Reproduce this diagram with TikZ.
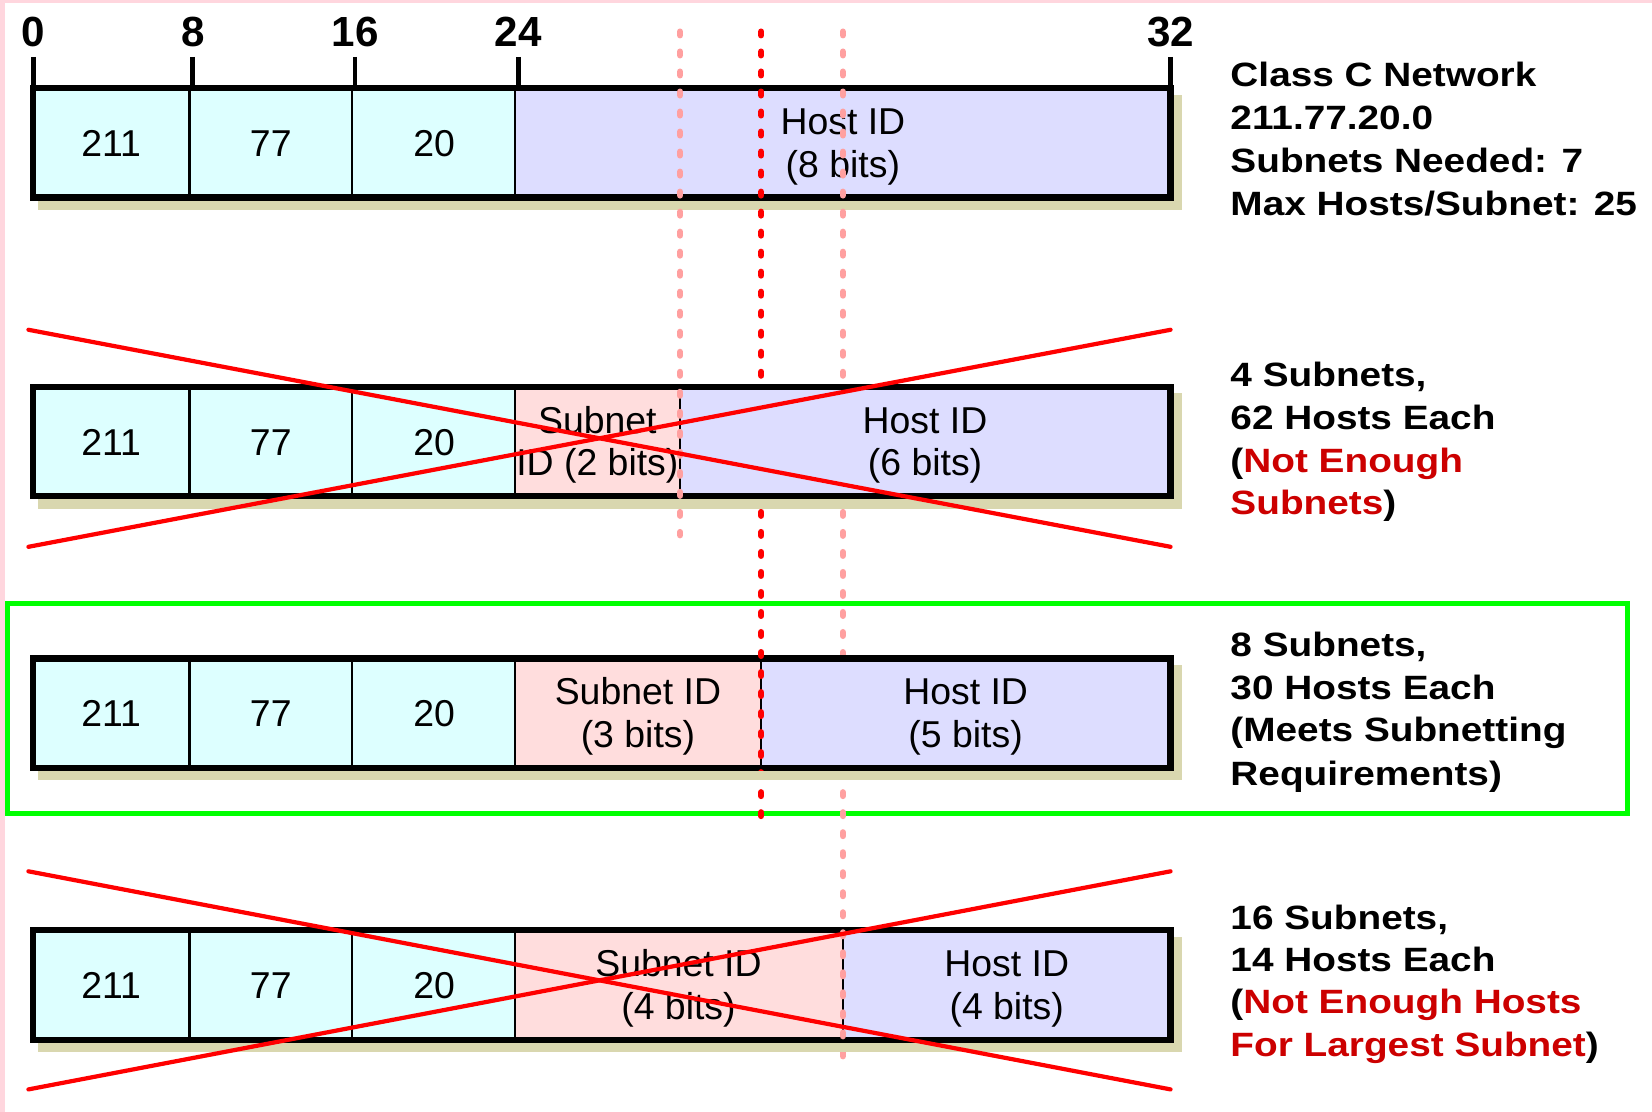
\documentclass[tikz,border=0pt]{standalone}
\usepackage{fontspec}
\setmainfont{Liberation Sans}
\newfontfamily\sidefont[FakeStretch=1.15]{Liberation Sans}
\definecolor{cellcyan}{RGB}{221,255,255}
\definecolor{celllav}{RGB}{221,221,255}
\definecolor{cellpink}{RGB}{255,221,221}
\definecolor{shadowtan}{RGB}{217,215,175}
\definecolor{dotpink}{RGB}{255,160,160}
\definecolor{dotred}{RGB}{255,0,0}
\definecolor{crossred}{RGB}{255,0,0}
\definecolor{okgreen}{RGB}{0,255,0}
\definecolor{warnred}{RGB}{204,0,0}
\definecolor{edgepink}{RGB}{255,214,222}
\tikzset{
 tickline/.style={line width=2.25pt, black},
 barborder/.style={line width=2.9pt, black},
 cellsep/.style={line width=1.2pt, black},
 dotline/.style={line width=3pt, line cap=round, dash pattern=on 1.75pt off 7.75pt},
 crossline/.style={line width=2pt, crossred, line cap=round},
 ticklabel/.style={font={\bfseries\fontsize{20}{24}\selectfont}, anchor=base, inner sep=0pt},
 celltext/.style={font={\fontsize{17.75}{21}\selectfont}, anchor=base, inner sep=0pt},
 sidetext/.style={font={\sidefont\bfseries\fontsize{16}{20}\selectfont}, anchor=base west, inner sep=0pt},
}
\newcommand\drawbar[2]{%
 \fill[shadowtan] (36.25,{#1+6.25}) rectangle (1121.75,{#1+115.75});
 \fill[cellcyan] (31,#1) rectangle (489,{#1+104});
 \fill[cellpink] (489,#1) rectangle (#2,{#1+104});
 \fill[celllav] (#2,#1) rectangle (1111,{#1+104});
 \foreach \xx in {180,334,489,#2} \draw[cellsep] (\xx,#1) -- (\xx,{#1+104});
 \draw[barborder] (31,#1) rectangle (1111,{#1+104});
}
\newcommand\octets[2]{%
 \node[celltext] (#2a) at (105.5,{#1+65}) {211};
 \node[celltext] (#2b) at (257,{#1+65}) {77};
 \node[celltext] (#2c) at (412,{#1+65}) {20};
}
\newcommand\ownline[3]{% top, x, color
 \begin{scope}
  \clip (28.25,{#1-2.75}) rectangle (1113.75,{#1+106.75});
  \draw[dotline,#3] (#2,30) -- (#2,1003);
 \end{scope}
}
\begin{document}
\begin{tikzpicture}[x=0.5pt,y=-0.5pt]
\useasboundingbox (0,0) rectangle (1568,1055);
\fill[white] (0,0) rectangle (1568,1055);
\fill[edgepink] (0,0) rectangle (5,1055);
\fill[edgepink] (0,0) rectangle (1568,3);

% green frame around the chosen layout
\draw[okgreen, line width=2.5pt] (7,573) rectangle (1545,772);

% bit ruler
\foreach \xx/\lab/\nm in {32/0/t0, 183/8/t8, 337/16/t16, 492/24/t24, 1111/32/t32}{
  \draw[tickline] (\xx,54) -- (\xx,83.5);
  \node[ticklabel] (\nm) at (\xx,44.5) {\lab};
}

% bar 1
\drawbar{83.5}{489}
\octets{83.5}{r1}
\node[celltext] (r1h1) at (800,127.5) {Host ID};
\node[celltext] (r1h2) at (800,168) {(8 bits)};

% long dotted guide lines
\draw[dotline, dotpink] (645.5,30) -- (645.5,508);
\draw[dotline, dotred] (722.5,30) -- (722.5,776);
\draw[dotline, dotpink] (800,30) -- (800,1003);

% bar 2
\drawbar{367}{645.5}
\octets{367}{r2}
\node[celltext] (r2s1) at (567,411) {Subnet};
\node[celltext] (r2s2) at (567,451.5) {ID (2 bits)};
\node[celltext] (r2h1) at (878,411) {Host ID};
\node[celltext] (r2h2) at (878,451.5) {(6 bits)};
\ownline{367}{645.5}{dotpink}

% bar 3
\drawbar{625}{722.5}
\octets{625}{r3}
\node[celltext] (r3s1) at (605.5,669) {Subnet ID};
\node[celltext] (r3s2) at (605.5,709.5) {(3 bits)};
\node[celltext] (r3h1) at (916.5,669) {Host ID};
\node[celltext] (r3h2) at (916.5,709.5) {(5 bits)};
\ownline{625}{722.5}{dotred}

% bar 4
\drawbar{883}{800}
\octets{883}{r4}
\node[celltext] (r4s1) at (644,927) {Subnet ID};
\node[celltext] (r4s2) at (644,967.5) {(4 bits)};
\node[celltext] (r4h1) at (955.5,927) {Host ID};
\node[celltext] (r4h2) at (955.5,967.5) {(4 bits)};
\ownline{883}{800}{dotpink}

% crosses
\draw[crossline] (27,313) -- (1111,519);
\draw[crossline] (27,519) -- (1111,313);
\draw[crossline] (27,827) -- (1111,1034);
\draw[crossline] (27,1034) -- (1111,827);

% side notes
\node[sidetext] (s1a) at (1167.5,82) {Class C Network};
\node[sidetext] (s1b) at (1167.5,123) {211.77.20.0};
\node[sidetext] (s1c) at (1167.5,164) {Subnets Needed: 7};
\node[sidetext] (s1d) at (1167.5,205) {Max Hosts/Subnet: 25};

\node[sidetext] (s2a) at (1167.5,367) {4 Subnets,};
\node[sidetext] (s2b) at (1167.5,407.5) {62 Hosts Each};
\node[sidetext] (s2c) at (1167.5,448) {(\textcolor{warnred}{Not Enough}};
\node[sidetext] (s2d) at (1167.5,488.5) {\textcolor{warnred}{Subnets})};

\node[sidetext] (s3a) at (1167.5,623) {8 Subnets,};
\node[sidetext] (s3b) at (1167.5,663.5) {30 Hosts Each};
\node[sidetext] (s3c) at (1167.5,704) {(Meets Subnetting};
\node[sidetext] (s3d) at (1167.5,745.5) {Requirements)};

\node[sidetext] (s4a) at (1167.5,882.5) {16 Subnets,};
\node[sidetext] (s4b) at (1167.5,922.5) {14 Hosts Each};
\node[sidetext] (s4c) at (1167.5,962) {(\textcolor{warnred}{Not Enough Hosts}};
\node[sidetext] (s4d) at (1167.5,1003) {\textcolor{warnred}{For Largest Subnet})};
\end{tikzpicture}
\end{document}
